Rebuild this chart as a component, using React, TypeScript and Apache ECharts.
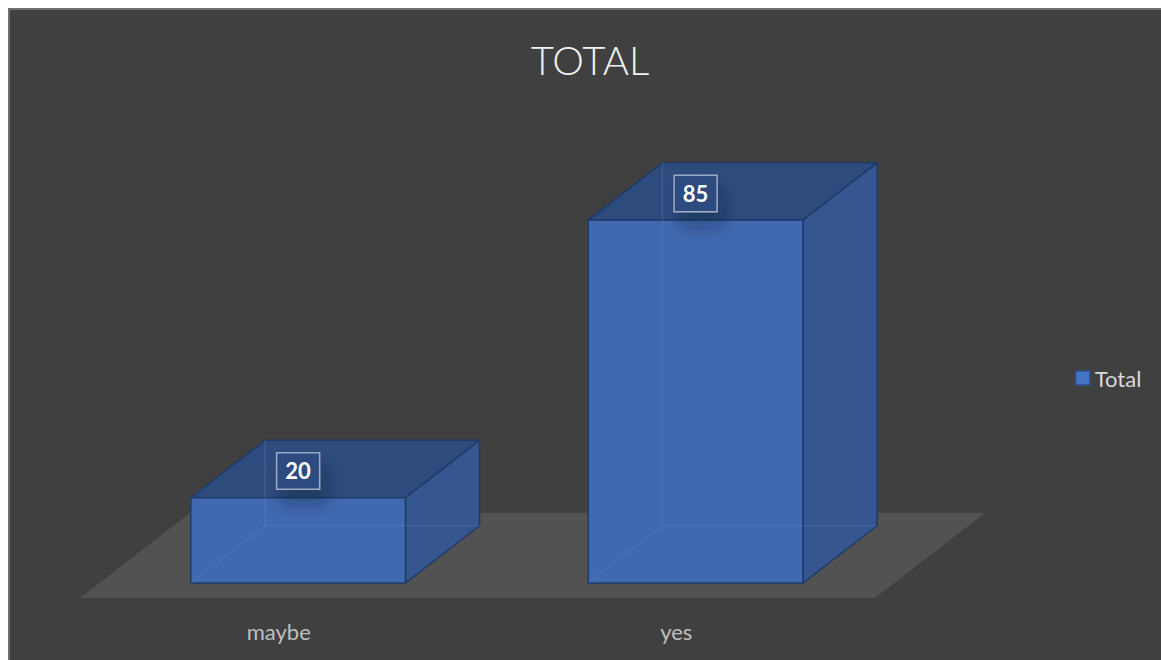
import React, { useEffect, useRef } from 'react';
import * as echarts from 'echarts';

const categories = ['maybe', 'yes'];
const totals = [20, 85];
const seriesName = 'Total';
const titleText = 'TOTAL';
const valueMax = 100;

export default function App() {
  const ref = useRef<HTMLDivElement>(null);
  useEffect(() => {
    const chart = echarts.init(ref.current!, null, { renderer: 'svg' });
    const DX = 110;
    const DY = -85;
    const F = 0.176;
    const B = 0.85;

    const floorRender = (params: any, api: any) => {
      const cs = params.coordSys;
      const yb = cs.y + cs.height;
      return {
        type: 'polygon',
        shape: {
          points: [
            [cs.x, yb],
            [cs.x + cs.width, yb],
            [cs.x + cs.width + DX, yb + DY],
            [cs.x + DX, yb + DY],
          ],
        },
        style: { fill: '#525252' },
      };
    };

    const barRender = (params: any, api: any) => {
      const i = api.value(0);
      const v = api.value(1);
      const p0 = api.coord([i, 0]);
      const p1 = api.coord([i, v]);
      const hw = api.size([1, 0])[0] * 0.27;
      const fx = DX * F, fy = DY * F, bx = DX * B, by = DY * B;
      const L = p0[0] - hw, R = p0[0] + hw, yb = p0[1], yt = p1[1];
      const FBL = [L + fx, yb + fy], FBR = [R + fx, yb + fy];
      const FTL = [L + fx, yt + fy], FTR = [R + fx, yt + fy];
      const BBL = [L + bx, yb + by], BBR = [R + bx, yb + by];
      const BTL = [L + bx, yt + by], BTR = [R + bx, yt + by];
      const edge = '#1f3a68';
      const hidden = 'rgba(110,150,215,0.3)';
      return {
        type: 'group',
        children: [
          {
            type: 'polygon',
            shape: { points: [FTL, FTR, BTR, BTL] },
            style: { fill: '#2e4b7e', stroke: edge, lineWidth: 1.5 },
          },
          {
            type: 'polygon',
            shape: { points: [FTR, BTR, BBR, FBR] },
            style: { fill: '#35568e', stroke: edge, lineWidth: 1.5 },
          },
          {
            type: 'polygon',
            shape: { points: [FBL, FBR, FTR, FTL] },
            style: { fill: '#4169b0', stroke: edge, lineWidth: 1.5 },
          },
          { type: 'line', shape: { x1: BTL[0], y1: BTL[1], x2: BBL[0], y2: BBL[1] }, style: { stroke: hidden, lineWidth: 1 } },
          { type: 'line', shape: { x1: BBL[0], y1: BBL[1], x2: BBR[0], y2: BBR[1] }, style: { stroke: hidden, lineWidth: 1 } },
          { type: 'line', shape: { x1: BBL[0], y1: BBL[1], x2: FBL[0], y2: FBL[1] }, style: { stroke: hidden, lineWidth: 1 } },
          {
            type: 'text',
            x: (L + R) / 2 + fx,
            y: yt + (fy + by) / 2 + 2,
            z2: 10,
            style: {
              text: String(v),
              fill: '#ffffff',
              fontSize: 22,
              fontWeight: 'bold',
              fontFamily: 'Lato',
              align: 'center',
              verticalAlign: 'middle',
              backgroundColor: '#2d4b80',
              borderColor: 'rgba(200,210,230,0.7)',
              borderWidth: 1.5,
              padding: [7, 8, 6, 8],
              shadowBlur: 16,
              shadowColor: 'rgba(10,20,40,0.35)',
              shadowOffsetX: 6,
              shadowOffsetY: 14,
            },
          },
        ],
      };
    };

    chart.setOption({
      animation: false,
      backgroundColor: '#404040',
      graphic: [
        {
          type: 'text',
          x: 582,
          y: 52,
          style: {
            text: titleText,
            fill: '#f2f2f2',
            fontSize: 40,
            fontWeight: 300,
            fontFamily: 'Lato',
            align: 'center',
            verticalAlign: 'middle',
          },
        },
      ],
      legend: {
        data: [
          {
            name: seriesName,
            icon: 'rect',
            itemStyle: { color: '#4472c4', borderColor: '#2f528f', borderWidth: 1.5 },
          },
        ],
        left: 1067,
        top: 359,
        padding: 0,
        itemWidth: 14,
        itemHeight: 14,
        itemGap: 5,
        textStyle: { color: '#d9d9d9', fontSize: 22, fontFamily: 'Lato' },
        selectedMode: false,
      },
      grid: { left: 72, top: 163, width: 795, height: 427 },
      xAxis: {
        type: 'category',
        data: categories,
        axisLine: { show: false },
        axisTick: { show: false },
        splitLine: { show: false },
        axisLabel: { color: '#bfbfbf', fontSize: 22, fontFamily: 'Lato', margin: 22 },
      },
      yAxis: { type: 'value', min: 0, max: valueMax, show: false },
      series: [
        {
          type: 'custom',
          name: 'floor',
          silent: true,
          data: [[0, 0]],
          renderItem: floorRender,
          z: 1,
        },
        {
          type: 'custom',
          name: seriesName,
          data: totals.map((v, i) => [i, v]),
          encode: { x: 0, y: 1 },
          renderItem: barRender,
          itemStyle: { color: '#4472c4' },
          z: 2,
        },
      ],
    });
    return () => chart.dispose();
  }, []);

  return (
    <>
      <div
        ref={ref}
        style={{ position: 'fixed', left: 8, top: 8, width: 1153, height: 652 }}
      />
      <div
        style={{
          position: 'fixed',
          left: 8,
          top: 8,
          right: 0,
          bottom: 0,
          borderTop: '2px solid #6f6f6f',
          borderLeft: '2px solid #6f6f6f',
          pointerEvents: 'none',
        }}
      />
    </>
  );
}
